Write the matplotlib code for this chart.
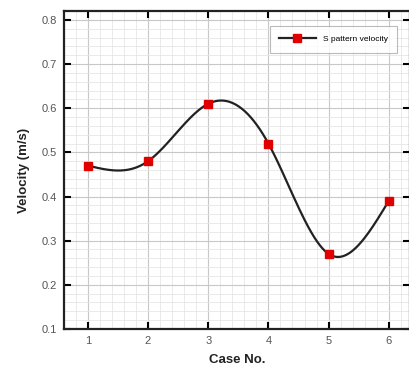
import numpy as np
import matplotlib.pyplot as plt
from matplotlib.ticker import MultipleLocator, AutoMinorLocator

plt.rcParams['font.family'] = ['Liberation Sans', 'DejaVu Sans']

case_no = [1, 2, 3, 4, 5, 6]
velocity = [0.47, 0.48, 0.61, 0.52, 0.27, 0.39]
series_name = 'S pattern velocity'


def natural_spline(x, y, n=300):
    x = np.asarray(x, float)
    y = np.asarray(y, float)
    k = len(x)
    h = np.diff(x)
    A = np.zeros((k, k))
    b = np.zeros(k)
    A[0, 0] = A[-1, -1] = 1
    for i in range(1, k - 1):
        A[i, i - 1] = h[i - 1]
        A[i, i] = 2 * (h[i - 1] + h[i])
        A[i, i + 1] = h[i]
        b[i] = 6 * ((y[i + 1] - y[i]) / h[i] - (y[i] - y[i - 1]) / h[i - 1])
    M = np.linalg.solve(A, b)
    xs = np.linspace(x[0], x[-1], n)
    idx = np.clip(np.searchsorted(x, xs) - 1, 0, k - 2)
    x0, x1 = x[idx], x[idx + 1]
    hh = x1 - x0
    ys = (M[idx] * (x1 - xs) ** 3 / (6 * hh) + M[idx + 1] * (xs - x0) ** 3 / (6 * hh)
          + (y[idx] / hh - M[idx] * hh / 6) * (x1 - xs)
          + (y[idx + 1] / hh - M[idx + 1] * hh / 6) * (xs - x0))
    return xs, ys


fig = plt.figure(figsize=(4.09, 3.70), dpi=100)
ax = fig.add_axes([0.156, 0.111, 0.846, 0.859])

xs, ys = natural_spline(case_no, velocity)
ax.plot(xs, ys, color='#222222', linewidth=1.6, zorder=3)
ax.plot(case_no, velocity, linestyle='none', marker='s', markersize=6,
        color='#e00000', zorder=4)
# legend proxy (line + marker)
ax.plot([], [], color='#222222', linewidth=1.6, marker='s', markersize=6,
        markerfacecolor='#e00000', markeredgecolor='#e00000', label=series_name)

ax.set_xlim(0.6, 6.35)
ax.set_ylim(0.1, 0.82)
ax.xaxis.set_major_locator(MultipleLocator(1))
ax.yaxis.set_major_locator(MultipleLocator(0.1))
ax.xaxis.set_minor_locator(AutoMinorLocator(5))
ax.yaxis.set_minor_locator(AutoMinorLocator(5))

ax.grid(which='major', color='#c8c8c8', linewidth=0.8)
ax.grid(which='minor', color='#e6e6e6', linewidth=0.6)
ax.set_axisbelow(True)

ax.tick_params(which='major', direction='in', length=5, width=1.5,
               top=True, right=True, labelsize=8, labelcolor='#555555', pad=5)
ax.tick_params(which='minor', length=0)
for s in ax.spines.values():
    s.set_linewidth(1.6)
    s.set_color('#222222')

ax.set_xlabel('Case No.', fontsize=9.5, fontweight='bold', color='#222222', labelpad=6)
ax.set_ylabel('Velocity (m/s)', fontsize=9.5, fontweight='bold', color='#222222', labelpad=8)

leg = ax.legend(loc='upper right', bbox_to_anchor=(0.975, 0.965), fontsize=6,
                frameon=True, fancybox=False, handlelength=4.5,
                borderpad=1.1, edgecolor='#aaaaaa')
leg.get_frame().set_linewidth(0.8)

fig.savefig('out.png', dpi=100)
